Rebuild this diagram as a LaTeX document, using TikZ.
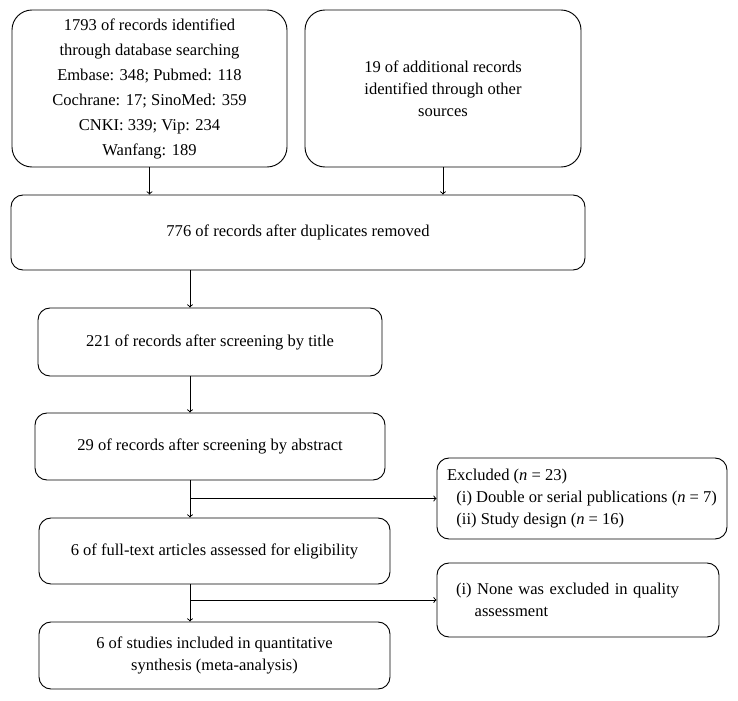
\documentclass[tikz,border=0pt]{standalone}
\usepackage{fontspec}
\setmainfont{Liberation Serif}
\usepackage{tikz}
\usetikzlibrary{arrows}
\tikzstyle{arrow} = [line width=0.7pt,->,>=to]
\tikzstyle{box} = [draw, line width=0.7pt, rounded corners=9pt, align=center, font=\fontsize{12.4}{16.5}\selectfont]

\begin{document}
\begin{tikzpicture}[x=0.75pt,y=-0.75pt]
	\useasboundingbox (0,0) rectangle (738,700);
	% sources
	\node[box, rounded corners=15pt, minimum width=206.25pt, minimum height=117.75pt, font=\fontsize{12.4}{18.75}\selectfont] (search) at (149.5,88.5) {1793 of records identified\\through database searching\\Embase: 348; Pubmed: 118\\Cochrane: 17; SinoMed: 359\\CNKI: 339; Vip: 234\\Wanfang: 189};
	\node[box, rounded corners=15pt, minimum width=207pt, minimum height=117.75pt] (other) at (443,88.5) {19 of additional records\\identified through other\\sources};
	% screening
	\node[box, minimum width=430.5pt, minimum height=56.25pt] (dedup) at (298,232.5) {776 of records after duplicates removed};
	\node[box, minimum width=258pt, minimum height=51pt] (title) at (210,342) {221 of records after screening by title};
	\node[box, minimum width=262.5pt, minimum height=50.25pt] (abstract) at (210,446.5) {29 of records after screening by abstract};
	\node[box, minimum width=263.25pt, minimum height=49.5pt] (fulltext) at (214.5,551) {6 of full-text articles assessed for eligibility};
	\node[box, minimum width=263.25pt, minimum height=50.25pt] (included) at (214.5,655.5) {6 of studies included in quantitative\\synthesis (meta-analysis)};
	% exclusions
	\node[box, align=left, minimum width=217.5pt, minimum height=60.75pt] (excl) at (582,498.5) {Excluded (\textit{n} = 23)\\\hspace*{7pt}(i) Double or serial publications (\textit{n} = 7)\\\hspace*{7pt}(ii) Study design (\textit{n} = 16)};
	\node[box, align=left, text width=183pt, inner xsep=14.25pt, minimum height=55.5pt] (quality) at (578,600) {(i) None was excluded in quality\\\hspace*{14pt}assessment};
	\coordinate (spine) at (190,0);
	\draw[arrow] (search.south) -- (search.south |- dedup.north);
	\draw[arrow] (other.south) -- (other.south |- dedup.north);
	\draw[arrow] (dedup.south -| spine) -- (title.north -| spine);
	\draw[arrow] (title.south -| spine) -- (abstract.north -| spine);
	\draw[arrow] (abstract.south -| spine) -- (fulltext.north -| spine);
	\draw[arrow] (spine |- excl.west) -- (excl.west);
	\draw[arrow] (fulltext.south -| spine) -- (included.north -| spine);
	\draw[arrow] (spine |- quality.west) -- (quality.west);
\end{tikzpicture}
\end{document}
